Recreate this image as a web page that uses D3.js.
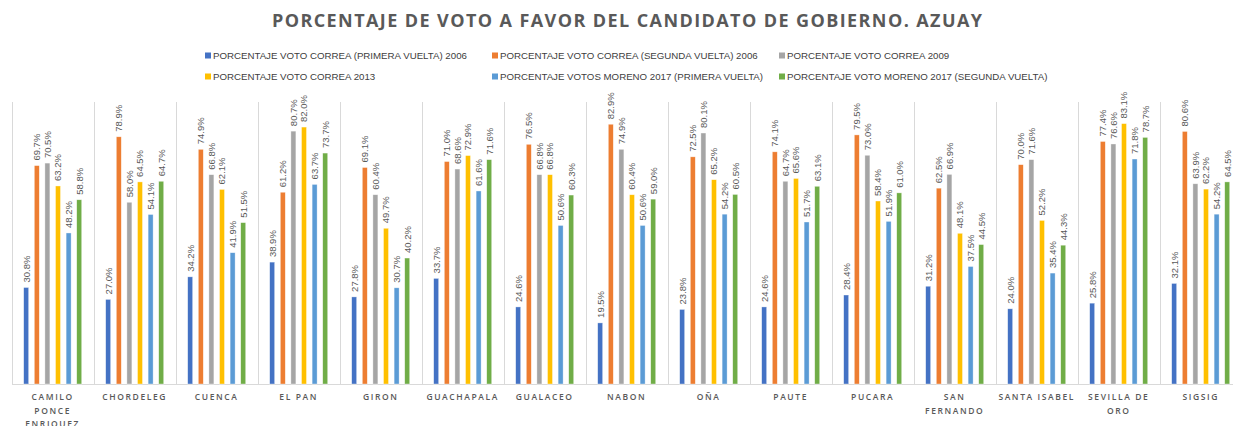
<!DOCTYPE html>
<meta charset="utf-8">
<html>
<head>
<title>Voto Azuay</title>
<style>
body { margin: 0; background: #fff; }
.title { font-family: "Open Sans", "Liberation Sans", sans-serif; font-weight: 700; font-size: 18px; fill: #595959; }
.legend text { font-family: "Liberation Sans", sans-serif; font-size: 9.7px; fill: #404040; }
.value-label { font-family: "Liberation Sans", sans-serif; font-size: 9.5px; fill: #595959; }
.cat-label { font-family: "Open Sans", "Liberation Sans", sans-serif; font-size: 8.5px; font-weight: 600; fill: #595959; letter-spacing: 1.6px; }
.grid { stroke: #d9d9d9; stroke-width: 1; shape-rendering: crispEdges; }
</style>
</head>
<body>
<svg id="chart" width="1233" height="426"></svg>

<script src="https://d3js.org/d3.v7.min.js"></script>
<script>

var categories = ["CAMILO PONCE ENRIQUEZ", "CHORDELEG", "CUENCA", "EL PAN", "GIRON", "GUACHAPALA",
  "GUALACEO", "NABON", "OÑA", "PAUTE", "PUCARA", "SAN FERNANDO", "SANTA ISABEL", "SEVILLA DE ORO", "SIGSIG"];

var seriesNames = [
  "PORCENTAJE VOTO CORREA (PRIMERA VUELTA) 2006",
  "PORCENTAJE VOTO CORREA (SEGUNDA VUELTA) 2006",
  "PORCENTAJE VOTO CORREA 2009",
  "PORCENTAJE VOTO CORREA 2013",
  "PORCENTAJE  VOTOS MORENO 2017 (PRIMERA VUELTA)",
  "PORCENTAJE VOTO MORENO 2017 (SEGUNDA VUELTA)"
];

var correa2006a = [30.8, 27.0, 34.2, 38.9, 27.8, 33.7, 24.6, 19.5, 23.8, 24.6, 28.4, 31.2, 24.0, 25.8, 32.1];
var correa2006b = [69.7, 78.9, 74.9, 61.2, 69.1, 71.0, 76.5, 82.9, 72.5, 74.1, 79.5, 62.5, 70.0, 77.4, 80.6];
var correa2009  = [70.5, 58.0, 66.8, 80.7, 60.4, 68.6, 66.8, 74.9, 80.1, 64.7, 73.0, 66.9, 71.6, 76.6, 63.9];
var correa2013  = [63.2, 64.5, 62.1, 82.0, 49.7, 72.9, 66.8, 60.4, 65.2, 65.6, 58.4, 48.1, 52.2, 83.1, 62.2];
var moreno2017a = [48.2, 54.1, 41.9, 63.7, 30.7, 61.6, 50.6, 50.6, 54.2, 51.7, 51.9, 37.5, 35.4, 71.8, 54.2];
var moreno2017b = [58.8, 64.7, 51.5, 73.7, 40.2, 71.6, 60.3, 59.0, 60.5, 63.1, 61.0, 44.5, 44.3, 78.7, 64.5];

var seriesValues = [correa2006a, correa2006b, correa2009, correa2013, moreno2017a, moreno2017b];
var colors = ["#4472C4", "#ED7D31", "#A5A5A5", "#FFC000", "#5B9BD5", "#70AD47"];

var svg = d3.select("#chart");

// plot area (the right edge runs past the window, like the reference)
var plotLeft = 11.7, catStep = 82, plotTop = 102, plotBottom = 384;

var x0 = d3.scaleBand()
  .domain(categories)
  .range([plotLeft, plotLeft + catStep * categories.length])
  .padding(0);

var x1 = d3.scaleBand()
  .domain(d3.range(seriesValues.length))
  .range([0, x0.bandwidth()])
  .paddingInner(0.53)
  .paddingOuter(1.13);

var y = d3.scaleLinear()
  .domain([0, 90])
  .range([plotBottom, plotTop]);

// title
svg.append("text")
  .attr("class", "title")
  .attr("x", 627)
  .attr("y", 27)
  .attr("text-anchor", "middle")
  .attr("textLength", 710)
  .attr("lengthAdjust", "spacing")
  .text("PORCENTAJE DE VOTO A FAVOR DEL CANDIDATO DE GOBIERNO. AZUAY");

// legend, two rows of three
var legendX = [205, 492, 779];
var legend = svg.append("g").attr("class", "legend");
seriesNames.forEach(function(name, i) {
  var g = legend.append("g")
    .attr("transform", "translate(" + legendX[i % 3] + "," + (i < 3 ? 56 : 77) + ")");
  g.append("rect")
    .attr("x", 0).attr("y", -3.5)
    .attr("width", 6).attr("height", 6)
    .attr("fill", colors[i]);
  g.append("text")
    .attr("x", 8)
    .attr("dy", "0.35em")
    .text(name);
});

// vertical gridlines between categories
var bounds = categories.map(function(c) { return x0(c); });
bounds.push(x0(categories[categories.length - 1]) + x0.bandwidth());
svg.append("g")
  .selectAll("line")
  .data(bounds)
  .enter()
  .append("line")
    .attr("class", "grid")
    .attr("x1", function(d) { return Math.round(d) + 0.5; })
    .attr("x2", function(d) { return Math.round(d) + 0.5; })
    .attr("y1", plotTop)
    .attr("y2", plotBottom);

// baseline
svg.append("line")
  .attr("class", "grid")
  .attr("x1", plotLeft).attr("x2", 1233)
  .attr("y1", plotBottom + 0.5).attr("y2", plotBottom + 0.5);

// bars
var groups = svg.append("g")
  .selectAll("g")
  .data(categories)
  .enter()
  .append("g")
    .attr("transform", function(d) { return "translate(" + x0(d) + ",0)"; });

function rowOf(d, ci) {
  return seriesValues.map(function(s, si) { return {s: si, v: s[ci]}; });
}

groups.selectAll("rect")
  .data(rowOf)
  .enter()
  .append("rect")
    .attr("x", function(d) { return x1(d.s); })
    .attr("y", function(d) { return y(d.v); })
    .attr("width", x1.bandwidth())
    .attr("height", function(d) { return plotBottom - y(d.v); })
    .attr("fill", function(d) { return colors[d.s]; })
    .attr("stroke", "#fff")
    .attr("stroke-opacity", 0.6)
    .attr("stroke-width", 0.6);

// value labels, rotated
groups.selectAll("text")
  .data(rowOf)
  .enter()
  .append("text")
    .attr("class", "value-label")
    .attr("transform", function(d) {
      return "translate(" + (x1(d.s) + x1.bandwidth() / 2) + "," + (y(d.v) - 5) + ") rotate(-90)";
    })
    .attr("dy", "0.35em")
    .text(function(d) { return d.v.toFixed(1) + "%"; });

// category labels with wrapping
svg.append("g")
  .selectAll("text")
  .data(categories)
  .enter()
  .append("text")
    .attr("class", "cat-label")
    .attr("x", function(d) { return x0(d) + x0.bandwidth() / 2; })
    .attr("y", 400)
    .attr("text-anchor", "middle")
    .each(function(d) {
      var el = d3.select(this), cx = x0(d) + x0.bandwidth() / 2;
      var words = d.split(" "), line = [];
      var tspan = el.append("tspan").attr("x", cx).attr("dy", 0);
      words.forEach(function(w) {
        line.push(w);
        tspan.text(line.join(" "));
        if (tspan.node().getComputedTextLength() > x0.bandwidth() - 2 && line.length > 1) {
          line.pop();
          tspan.text(line.join(" "));
          line = [w];
          tspan = el.append("tspan").attr("x", cx).attr("dy", "13.5px").text(w);
        }
      });
    });

</script>
</body>
</html>
